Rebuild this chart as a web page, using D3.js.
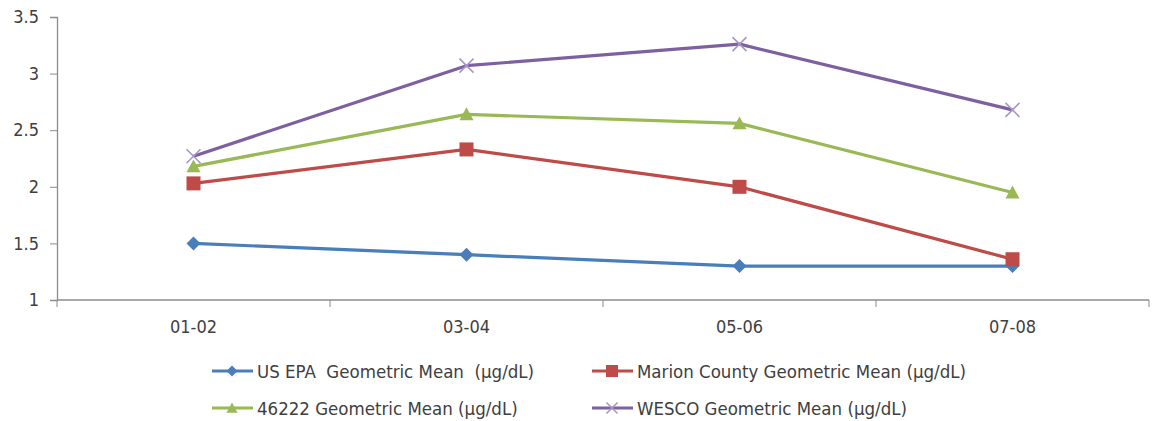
<!DOCTYPE html>
<html>
<head>
<meta charset="utf-8">
<script src="https://cdn.jsdelivr.net/npm/d3@7"></script>
<style>
  html, body { margin: 0; padding: 0; background: #fff; }
  svg { display: block; }
  text { font-family: "Liberation Sans Narrow", "DejaVu Sans Condensed", "Liberation Sans", sans-serif; fill: #404040; white-space: pre; }
</style>
</head>
<body>
<svg id="chart" width="1156" height="421"></svg>
<script>
// Survey periods along the x axis
const periods = ["01-02", "03-04", "05-06", "07-08"];

// Geometric mean blood lead levels (µg/dL) per period
const usEpa    = [1.5, 1.4, 1.3, 1.3];
const marion   = [2.03, 2.33, 2.0, 1.36];
const zip46222 = [2.18, 2.64, 2.56, 1.95];
const wesco    = [2.27, 3.07, 3.26, 2.68];

const seriesNames = [
  "US EPA  Geometric Mean  (µg/dL)",
  "Marion County Geometric Mean (µg/dL)",
  "46222 Geometric Mean (µg/dL)",
  "WESCO Geometric Mean (µg/dL)"
];
const yTicks = [1, 1.5, 2, 2.5, 3, 3.5];
const yTickLabels = ["1", "1.5", "2", "2.5", "3", "3.5"];

const series = [
  { name: seriesNames[0], values: usEpa,    color: "#4a7ebb", marker: "diamond" },
  { name: seriesNames[1], values: marion,   color: "#be4b48", marker: "square" },
  { name: seriesNames[2], values: zip46222, color: "#98b954", marker: "triangle" },
  { name: seriesNames[3], values: wesco,    color: "#7d60a0", marker: "cross" }
];

const svg = d3.select("#chart");
const plot = { left: 57, right: 1149, top: 17, bottom: 300 };

const x = d3.scaleBand().domain(periods).range([plot.left, plot.right]);
const y = d3.scaleLinear().domain([1, 3.5]).range([plot.bottom, plot.top]);
const axisColor = "#8c8c8c";

// Y axis
const yAxis = svg.append("g")
  .attr("transform", `translate(${plot.left},0)`)
  .call(d3.axisLeft(y).tickValues(yTicks).tickSize(7).tickPadding(11)
    .tickFormat((d, i) => yTickLabels[i]));
yAxis.select(".domain").attr("stroke", axisColor).attr("stroke-width", 1.3);
yAxis.selectAll(".tick line").attr("stroke", axisColor);
yAxis.selectAll(".tick text").style("font-size", "18px").attr("fill", "#404040");

// X axis with tick marks between categories
const xAxis = svg.append("g")
  .attr("transform", `translate(0,${plot.bottom})`);
xAxis.append("line")
  .attr("x1", plot.left).attr("x2", plot.right)
  .attr("stroke", axisColor).attr("stroke-width", 1.3);
const boundaries = periods.map(p => x(p)).concat([x(periods[periods.length - 1]) + x.bandwidth()]);
xAxis.selectAll("line.tick")
  .data(boundaries)
  .join("line")
  .attr("class", "tick")
  .attr("x1", d => d).attr("x2", d => d)
  .attr("y1", 0).attr("y2", 7)
  .attr("stroke", axisColor);
xAxis.selectAll("text")
  .data(periods)
  .join("text")
  .attr("x", d => x(d) + x.bandwidth() / 2)
  .attr("y", 33)
  .attr("text-anchor", "middle")
  .style("font-size", "18px")
  .text(d => d);

const cx = p => x(p) + x.bandwidth() / 2;

function drawMarker(g, type, color, size) {
  const s = size;
  if (type === "diamond") {
    g.append("path").attr("d", `M0,${-s}L${s},0L0,${s}L${-s},0Z`).attr("fill", color);
  } else if (type === "square") {
    g.append("rect").attr("x", -s).attr("y", -s).attr("width", 2 * s).attr("height", 2 * s)
      .attr("fill", color);
  } else if (type === "triangle") {
    g.append("path").attr("d", `M0,${-s}L${s},${s * 0.85}L${-s},${s * 0.85}Z`).attr("fill", color);
  } else if (type === "cross") {
    g.append("path").attr("d", `M${-s},${-s}L${s},${s}M${-s},${s}L${s},${-s}`)
      .attr("stroke", "#a898c4").attr("stroke-width", 1.6).attr("fill", "none");
  }
}

const line = d3.line().x((d, i) => cx(periods[i])).y(d => y(d));

// Lines and markers
series.forEach(s => {
  svg.append("path")
    .datum(s.values)
    .attr("d", line)
    .attr("fill", "none")
    .attr("stroke", s.color)
    .attr("stroke-width", 3.2)
    .attr("stroke-linejoin", "round");
  s.values.forEach((v, i) => {
    const g = svg.append("g").attr("transform", `translate(${cx(periods[i])},${y(v)})`);
    drawMarker(g, s.marker, s.color, 7);
  });
});

// Legend in two rows, two columns
const legendPos = [
  { x: 212, y: 371 }, { x: 592, y: 371 },
  { x: 212, y: 408 }, { x: 592, y: 408 }
];
series.forEach((s, i) => {
  const p = legendPos[i];
  const g = svg.append("g").attr("transform", `translate(${p.x},${p.y})`);
  g.append("line").attr("x1", 0).attr("x2", 41).attr("y1", 0).attr("y2", 0)
    .attr("stroke", s.color).attr("stroke-width", 3.2);
  const m = g.append("g").attr("transform", "translate(20,0)");
  drawMarker(m, s.marker, s.color, s.marker === "square" ? 6 : 5.5);
  g.append("text").attr("x", 45).attr("y", 6.5)
    .style("font-size", "18.5px")
    .text(s.name);
});
</script>
</body>
</html>
